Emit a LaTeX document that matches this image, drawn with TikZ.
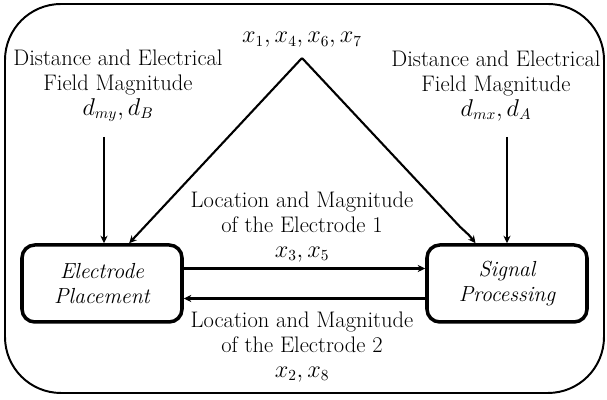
\documentclass[tikz,border=0pt]{standalone}
\usepackage{amsmath}
\usetikzlibrary{arrows.meta}

\begin{document}
\begin{tikzpicture}[
  blockbox/.style={draw,line width=2.5pt,rounded corners=0.32cm,minimum width=4cm,
    minimum height=1.925cm,align=center,font=\fontsize{15.5}{18}\selectfont\itshape},
  lbl/.style={align=center,font=\fontsize{16}{17.5}\selectfont},
  flow/.style={->,>={Stealth[length=1.9mm,width=1.8mm]},line width=1.5pt}]
  \useasboundingbox(0,0)rectangle(15.175,10);
  \draw[line width=1.4pt,rounded corners=1.4cm](0.125,0.175)rectangle(15.1,9.9);
  % the two blocks
  \node[blockbox](place)at(2.55,2.9125){Electrode\\Placement};
  \node[blockbox](proc)at(12.675,2.9125){Signal\\Processing};
  % inputs from above
  \node[lbl](topx)at(7.55,9.0){$x_1, x_4, x_6, x_7$};
  \coordinate(apex)at(7.55,8.55);
  \coordinate(bendR)at(11.5,4.33);
  \draw[flow](apex)--(place.56);
  \draw[flow](apex)--(bendR).. controls (11.75,4.1) ..(proc.128);
  \node[lbl](distB)at(2.95,7.85){Distance and Electrical\\Field Magnitude\\$d_{my}, d_B$};
  \node[lbl](distA)at(12.4,7.85){Distance and Electrical\\Field Magnitude\\$d_{mx}, d_A$};
  \coordinate(inB)at(2.6,6.575);
  \coordinate(inA)at(12.675,6.575);
  \draw[flow](inB)--(inB|-place.north);
  \draw[flow](inA)--(proc.north);
  % exchange between the blocks
  \draw[flow]([yshift=0.375cm]place.east)--([yshift=0.375cm]proc.west);
  \draw[flow]([yshift=-0.375cm]proc.west)--([yshift=-0.375cm]place.east);
  \node[lbl](elec1)at(7.55,4.325){Location and Magnitude\\of the Electrode 1\\$x_3, x_5$};
  \node[lbl](elec2)at(7.55,1.325){Location and Magnitude\\of the Electrode 2\\$x_2, x_8$};
\end{tikzpicture}
\end{document}
